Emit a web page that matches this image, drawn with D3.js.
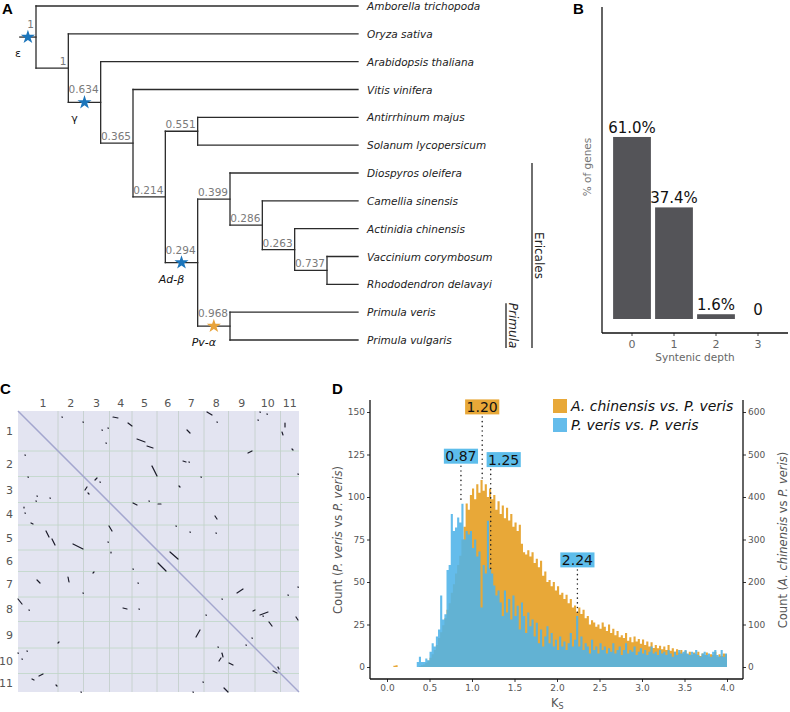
<!DOCTYPE html>
<html>
<head>
<meta charset="utf-8">
<script src="https://cdn.jsdelivr.net/npm/d3@7/dist/d3.min.js"></script>
<style>
html,body{margin:0;padding:0;background:#fff;}
svg{display:block;font-family:"DejaVu Sans",Verdana,sans-serif;}
</style>
</head>
<body>
<svg id="fig" width="790" height="712"></svg>
<script>
// ---------------- Panel A data ----------------
const treeNewick = "(Amborella trichopoda,(Oryza sativa,(Arabidopsis thaliana,(Vitis vinifera,((Antirrhinum majus,Solanum lycopersicum)0.551,((Diospyros oleifera,(Camellia sinensis,(Actinidia chinensis,(Vaccinium corymbosum,Rhododendron delavayi)0.737)0.263)0.286)0.399,(Primula veris,Primula vulgaris)0.968)0.294)0.214)0.365)0.634)1)1;";
const wgdNodes = ["root", "0.634", "0.294", "0.968"];
const wgdNames = ["ε", "γ", "Ad-β", "Pv-α"];
const wgdGroups = ["shared", "shared", "shared", "primula"];
const cladeNames = ["Ericales", "Primula"];
const cladeFirstTip = ["Diospyros oleifera", "Primula veris"];
const cladeLastTip = ["Primula vulgaris", "Primula vulgaris"];

// ---------------- Panel B data ----------------
const depthCats = ["0", "1", "2", "3"];
const depthPct = [61.0, 37.4, 1.6, 0];
const depthLabels = ["61.0%", "37.4%", "1.6%", "0"];

// ---------------- Panel C data ----------------
const chromNames = ["1","2","3","4","5","6","7","8","9","10","11"];
const chromLengths = [80, 51, 52, 45, 50, 43, 51, 49, 53, 51, 37];
const dotSegs = [
[378,2,388,8],[398,22],[484,2],[480,18],[498,6],[190,12,200,14],[88,12],[130,22],[220,24,228,30],[168,38],[180,34],
[238,56,254,62],[258,70,270,74],[338,38,344,44],[534,24,534,32],[528,42,530,48],[176,64],[14,88],[460,84,468,80],
[548,76,550,78],[330,100,336,102],[342,102],[268,110,278,130],[20,132],[366,132],[560,126],[154,138,158,134],[164,142],
[134,158,138,152],[140,164,142,166],[322,150,324,152],[36,180],[38,170],[64,174],[230,184,238,188],[262,180],
[280,186,286,186],[12,192,12,194],[14,204],[26,224,30,226],[394,210,398,216],[182,230,188,240],[316,230],[344,242],
[396,244],[56,240,62,252],[68,256,74,268],[180,262],[110,266,130,276],[186,282,186,284],[304,282,320,296],
[280,304,296,320],[230,316],[150,324,152,322],[100,332,102,342],[38,338,44,344],[240,344],[438,364,450,356],[130,364],
[560,352],[0,376,8,386],[408,376],[540,368],[22,398],[210,394,218,396],[242,396],[470,400,474,398],[484,408,500,402],
[490,410],[556,412,560,418],[376,408],[502,422,508,430],[356,452,364,438],[80,464,82,462],[468,454],[456,468],[0,484],
[18,480],[8,496],[400,472],[408,484,410,492],[402,500,406,494],[422,504,430,508],[42,530,50,526],[28,536,32,538],
[510,520,518,524],[520,512,522,516],[76,548,78,550],[370,542],[350,562],[412,554,420,562],[126,562]
];

// ---------------- Panel D data ----------------
const ksBinWidth = 0.025;
// P. veris vs P. veris (left axis)
const pvPvCounts = [
0,0,0,0,0,0,0,0,0,0, 0,0,0,0,3,6,3,3,5,4,
9,14,12,18,22,42,28,31,57,60, 90,80,82,88,85,96,75,80,78,80,
70,75,65,68,35,60,55,86,58,55, 48,42,45,38,30,45,32,40,28,42,
30,36,22,38,30,20,32,24,28,18, 26,14,22,12,18,24,14,20,12,16,
10,18,12,15,10,14,20,12,16,30, 12,18,10,14,12,8,16,10,12,8,
14,10,12,8,11,9,14,8,10,12, 7,10,14,8,10,9,12,7,9,11,
8,10,7,9,12,8,9,7,10,8, 9,7,10,8,6,9,7,10,8,9,
10,8,7,9,8,10,7,6,8,9, 7,8,6,9,10,7,6,10,6,8
];
// A. chinensis vs P. veris (right axis)
const acPvCounts = [
0,0,0,3,4,0,0,0,0,0, 0,0,0,0,0,2,4,6,10,15,
22,30,40,52,68,82,98,115,135,150, 175,195,220,240,262,300,330,385,370,405,
420,395,430,410,440,415,430,400,420,395, 405,370,390,360,380,350,375,345,360,330,
340,320,335,290,270,265,275,260,270,245, 255,235,250,215,225,200,205,190,200,180,
190,170,175,160,170,150,160,140,145,130, 140,125,135,115,120,100,110,105,95,100,
90,105,95,85,100,80,90,75,85,70, 75,68,80,62,70,58,72,60,66,55,
65,52,60,48,58,45,52,44,50,42, 48,40,52,38,44,36,42,34,40,32,
38,30,36,28,34,30,36,26,32,28, 34,25,30,28,36,24,30,26,32,30
];
const ksTicks = [0, 0.5, 1, 1.5, 2, 2.5, 3, 3.5, 4];
const pvTicks = [0, 25, 50, 75, 100, 125, 150];
const acTicks = [0, 100, 200, 300, 400, 500, 600];
const peakKs = [0.87, 1.12, 1.22, 2.24];
const peakText = ["0.87", "1.20", "1.25", "2.24"];
const peakSeries = ["pv", "ac", "pv", "pv"];
const peakTop = [96, 440, 57, 32];
const peakLabelAt = [124, 153, 122, 63];
const legendNames = ["A. chinensis vs. P. veris", "P. veris vs. P. veris"];
const legendSeries = ["ac", "pv"];

// ---------------- helpers ----------------
const svg = d3.select("#fig");
const C_ORANGE = "#E8A838", C_BLUE = "#4FB3E8", BLUE_OP = 0.88;
const C_WGD = {shared: "#1B75BB", primula: "#E8A33A"};

function parseNewick(s) {
  let i = 0;
  function node() {
    const n = {};
    const kids = [];
    if (s[i] === "(") {
      i++;
      kids.push(node());
      while (s[i] === ",") { i++; kids.push(node()); }
      i++;
    }
    const st = i;
    while (i < s.length && !",();".includes(s[i])) i++;
    const lab = s.slice(st, i).trim();
    if (kids.length) { n.children = kids; n.label = lab; } else { n.name = lab; }
    return n;
  }
  return node();
}

// panel letters
[["A",2,14],["B",573,14],["C",0,394],["D",332,394]].forEach(p=>{
  svg.append("text").attr("x",p[1]).attr("y",p[2]).text(p[0])
    .attr("font-family","Liberation Sans, Arial, sans-serif")
    .attr("font-weight","bold").attr("font-size",15).attr("fill","#000");
});

// ================= Panel A =================
(function(){
  const g = svg.append("g");
  const root = d3.hierarchy(parseNewick(treeNewick));
  const leaves = root.leaves();
  const yTip = d3.scaleLinear().domain([0, leaves.length - 1]).range([6, 340]);
  const xDepth = d3.scaleLinear().domain([0, 9]).range([36, 327]);
  const tipX = 358;
  leaves.forEach((l, i) => { l.py = yTip(i); l.px = tipX; });
  root.eachAfter(n => {
    if (n.children) { n.py = d3.mean(n.children, c => c.py); n.px = xDepth(n.depth); }
  });
  const stubX = xDepth(-0.5);
  const nodeKey = n => n.depth === 0 ? "root" : n.data.label;
  const col = "#2b2b2b";

  const segs = [];
  root.descendants().forEach(n => {
    const px0 = n.parent ? n.parent.px : stubX;
    segs.push([px0, n.py, n.px, n.py]);
    if (n.children) segs.push([n.px, n.children[0].py, n.px, n.children[n.children.length-1].py]);
  });
  g.selectAll("line.br").data(segs).join("line").attr("class","br")
    .attr("x1", d=>d[0]).attr("y1", d=>d[1]).attr("x2", d=>d[2]).attr("y2", d=>d[3])
    .attr("stroke", col).attr("stroke-width", 1.3).attr("stroke-linecap","square");

  const internals = root.descendants().filter(n => n.children);
  g.selectAll("text.sup").data(internals).join("text").attr("class","sup")
    .attr("x", n => n.px - 2)
    .attr("y", n => n.py - (wgdNodes.includes(nodeKey(n)) ? 9 : 3))
    .attr("text-anchor","end").attr("font-size",10.5).attr("fill","#7a7a7a")
    .text(n => n.data.label);

  g.selectAll("text.tip").data(leaves).join("text").attr("class","tip")
    .attr("x", tipX + 9).attr("y", n => n.py + 4)
    .attr("font-size",10.5).attr("font-style","italic").attr("fill","#222")
    .text(n => n.data.name);

  const star = d3.symbol().type(d3.symbolStar).size(62);
  wgdNodes.forEach((k, i) => {
    const n = root.descendants().find(d => d.children && nodeKey(d) === k);
    const x0 = n.parent ? n.parent.px : stubX;
    const sx = (x0 + n.px) / 2, sy = n.py;
    g.append("path").attr("d", star()).attr("transform", `translate(${sx},${sy})`)
      .attr("fill", C_WGD[wgdGroups[i]]);
    g.append("text").attr("x", sx - 10).attr("y", sy + 20).attr("text-anchor","middle")
      .attr("font-size",11).attr("fill","#111")
      .attr("font-style", wgdNames[i].includes("-") ? "italic" : "normal")
      .text(wgdNames[i]);
  });

  const barX = [532, 506];
  cladeNames.forEach((nm, i) => {
    const a = leaves.find(l => l.data.name === cladeFirstTip[i]).py;
    const b = leaves.find(l => l.data.name === cladeLastTip[i]).py;
    const y0 = a - (i === 0 ? 10 : 9), y1 = b + 8;
    g.append("line").attr("x1", barX[i]).attr("x2", barX[i]).attr("y1", y0).attr("y2", y1)
      .attr("stroke","#222").attr("stroke-width",1.3);
    g.append("text").attr("transform", `translate(${barX[i]+3},${(y0+y1)/2}) rotate(90)`)
      .attr("text-anchor","middle").attr("font-size",12).attr("fill","#222")
      .attr("font-style", i === 1 ? "italic" : "normal").text(nm);
  });
})();

// ================= Panel B =================
(function(){
  const g = svg.append("g");
  const x = d3.scaleBand().domain(depthCats).range([611, 779]).paddingInner(0.1).paddingOuter(0.05);
  const y = d3.scaleLinear().domain([0, 100]).range([319, 20.6]);
  g.selectAll("rect").data(depthPct).join("rect")
    .attr("x", (d,i) => x(depthCats[i])).attr("width", x.bandwidth())
    .attr("y", d => y(d)).attr("height", d => y(0) - y(d)).attr("fill","#545458");
  g.selectAll("text.bl").data(depthLabels).join("text").attr("class","bl")
    .attr("x", (d,i) => x(depthCats[i]) + x.bandwidth()/2)
    .attr("y", (d,i) => y(depthPct[i]) - 4)
    .attr("text-anchor","middle").attr("font-size",15).attr("fill","#111").text(d => d);
  const ax = g.append("g").attr("transform","translate(0,333)")
    .call(d3.axisBottom(x).tickSize(3).tickPadding(4));
  ax.select(".domain").remove();
  ax.selectAll("line").attr("stroke","#444");
  ax.selectAll("text").attr("font-size",11).attr("fill","#666").attr("font-family","DejaVu Sans, sans-serif");
  g.append("line").attr("x1",602).attr("x2",602).attr("y1",7).attr("y2",333).attr("stroke","#111").attr("stroke-width",1.3);
  g.append("line").attr("x1",602).attr("x2",788).attr("y1",333).attr("y2",333).attr("stroke","#111").attr("stroke-width",1.3);
  g.append("text").attr("transform","translate(591,167) rotate(-90)").attr("text-anchor","middle")
    .attr("font-size",10.5).attr("fill","#777").text("% of genes");
  g.append("text").attr("x",695).attr("y",361).attr("text-anchor","middle")
    .attr("font-size",10.5).attr("fill","#666").text("Syntenic depth");
})();

// ================= Panel C =================
(function(){
  const g = svg.append("g");
  const total = d3.sum(chromLengths);
  const gx = d3.scaleLinear().domain([0, total]).range([18, 299]);
  const gy = d3.scaleLinear().domain([0, total]).range([411, 692]);
  const cum = d3.cumsum(chromLengths);
  const starts = [0, ...cum.slice(0, -1)];
  g.append("rect").attr("x", gx(0)).attr("y", gy(0)).attr("width", gx(total)-gx(0)).attr("height", gy(total)-gy(0))
    .attr("fill","#E3E4F1");
  const inner = Array.from(cum).slice(0, -1);
  g.selectAll("line.vg").data(inner).join("line").attr("class","vg")
    .attr("x1", d=>gx(d)).attr("x2", d=>gx(d)).attr("y1", gy(0)).attr("y2", gy(total))
    .attr("stroke","#C2CDC9").attr("stroke-width",0.8);
  g.selectAll("line.hg").data(inner).join("line").attr("class","hg")
    .attr("y1", d=>gy(d)).attr("y2", d=>gy(d)).attr("x1", gx(0)).attr("x2", gx(total))
    .attr("stroke","#BFD5C6").attr("stroke-width",0.8);
  g.append("line").attr("x1",gx(0)).attr("y1",gy(0)).attr("x2",gx(total)).attr("y2",gy(total))
    .attr("stroke","#A3A6CE").attr("stroke-width",1.5);
  g.selectAll("line.dot").data(dotSegs).join("line").attr("class","dot")
    .attr("x1", d=>gx(d[0])).attr("y1", d=>gy(d[1]))
    .attr("x2", d=>gx(d.length>2 ? d[2] : d[0]+0.5)).attr("y2", d=>gy(d.length>2 ? d[3] : d[1]+0.5))
    .attr("stroke","#1a1a28").attr("stroke-width",1.2).attr("stroke-linecap","round");
  g.selectAll("text.ct").data(chromNames).join("text").attr("class","ct")
    .attr("x", (d,i) => gx(starts[i] + chromLengths[i]/2) + (i === 0 ? 5 : 0)).attr("y", 407)
    .attr("text-anchor","middle").attr("font-size",11).attr("fill","#555").text(d=>d);
  g.selectAll("text.cl").data(chromNames).join("text").attr("class","cl")
    .attr("x", 13).attr("y", (d,i) => gy(starts[i] + chromLengths[i]/2) + 4)
    .attr("text-anchor","end").attr("font-size",11).attr("fill","#555").text(d=>d);
})();

// ================= Panel D =================
(function(){
  const g = svg.append("g");
  const x = d3.scaleLinear().domain([0, 4]).range([387, 727]);
  const yL = d3.scaleLinear().domain([0, 150]).range([667, 412]);
  const yR = d3.scaleLinear().domain([0, 600]).range([667, 412]);
  const scaleOf = s => s === "ac" ? yR : yL;

  const histPath = (counts, y) => {
    const pts = counts.map((c, i) => [i * ksBinWidth, c]);
    pts.push([counts.length * ksBinWidth, counts[counts.length - 1]]);
    return d3.area().x(d => x(d[0])).y0(y(0)).y1(d => y(d[1])).curve(d3.curveStepAfter)(pts);
  };
  g.append("path").attr("d", histPath(acPvCounts, yR)).attr("fill", C_ORANGE);
  g.append("path").attr("d", histPath(pvPvCounts, yL)).attr("fill", C_BLUE).attr("fill-opacity", BLUE_OP);

  const styleAxis = a => {
    a.select(".domain").remove();
    a.selectAll("line").attr("stroke","#333");
    a.selectAll("text").attr("font-size",9).attr("fill","#555").attr("font-family","DejaVu Sans, sans-serif");
  };
  g.append("g").attr("transform","translate(0,679)")
    .call(d3.axisBottom(x).tickValues(ksTicks).tickFormat(d3.format(".1f")).tickSize(3).tickPadding(3)).call(styleAxis);
  g.append("g").attr("transform","translate(370,0)")
    .call(d3.axisLeft(yL).tickValues(pvTicks).tickSize(3).tickPadding(2)).call(styleAxis);
  g.append("g").attr("transform","translate(743,0)")
    .call(d3.axisRight(yR).tickValues(acTicks).tickSize(3).tickPadding(2)).call(styleAxis);
  [[370,400,370,679],[370,679,743,679],[743,400,743,679]].forEach(l=>{
    g.append("line").attr("x1",l[0]).attr("y1",l[1]).attr("x2",l[2]).attr("y2",l[3])
      .attr("stroke","#111").attr("stroke-width",1.3);
  });

  const tL = g.append("text").attr("transform","translate(342,540) rotate(-90)").attr("text-anchor","middle")
    .attr("font-size",11.5).attr("fill","#555");
  tL.append("tspan").text("Count (");
  tL.append("tspan").attr("font-style","italic").text("P. veris");
  tL.append("tspan").text(" vs ");
  tL.append("tspan").attr("font-style","italic").text("P. veris");
  tL.append("tspan").text(")");
  const tR = g.append("text").attr("transform","translate(787,540) rotate(-90)").attr("text-anchor","middle")
    .attr("font-size",11.5).attr("fill","#555");
  tR.append("tspan").text("Count (");
  tR.append("tspan").attr("font-style","italic").text("A. chinensis");
  tR.append("tspan").text(" vs ");
  tR.append("tspan").attr("font-style","italic").text("P. veris");
  tR.append("tspan").text(")");
  const tX = g.append("text").attr("x",551).attr("y",707).attr("font-size",11.5).attr("fill","#555");
  tX.append("tspan").text("K");
  tX.append("tspan").attr("font-size",8).attr("dy",2).text("S");

  peakKs.forEach((k, i) => {
    const lx = x(k);
    const cx = lx + (peakText[i] === "1.25" ? 13 : 0);
    const cy = yL(peakLabelAt[i]);
    g.append("line").attr("x1", lx).attr("x2", lx).attr("y1", cy + 10).attr("y2", scaleOf(peakSeries[i])(peakTop[i]))
      .attr("stroke","#222").attr("stroke-width",1.5).attr("stroke-linecap","round").attr("stroke-dasharray","0.1,4.6");
    const t = g.append("text").attr("x", cx).attr("y", cy + 5).attr("text-anchor","middle")
      .attr("font-size",14).attr("fill","#111").text(peakText[i]);
    const w = t.node().getComputedTextLength();
    g.insert("rect", () => t.node()).attr("x", cx - w/2 - 1.5).attr("y", cy - 7.5).attr("width", w + 3).attr("height", 15)
      .attr("fill", peakSeries[i] === "ac" ? C_ORANGE : "#5DBDEB");
  });

  legendNames.forEach((nm, i) => {
    const y0 = 399 + i * 19;
    g.append("rect").attr("x",553).attr("y",y0).attr("width",14).attr("height",14)
      .attr("fill", legendSeries[i] === "ac" ? C_ORANGE : C_BLUE)
      .attr("fill-opacity", legendSeries[i] === "ac" ? 1 : BLUE_OP);
    g.append("text").attr("x", 571).attr("y", y0 + 12).attr("font-size",14).attr("font-style","italic")
      .attr("fill","#111").text(nm);
  });
})();
</script>
</body>
</html>
